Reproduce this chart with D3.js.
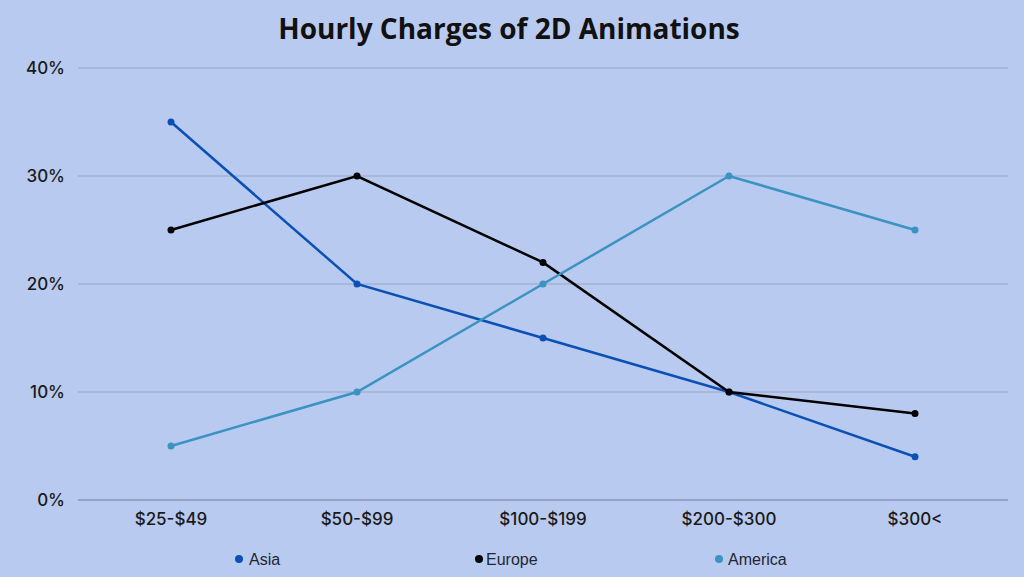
<!DOCTYPE html>
<html>
<head>
<meta charset="utf-8">
<script src="https://cdn.jsdelivr.net/npm/d3@7"></script>
<style>
  body { margin: 0; background: #b9caf0; }
  svg { display: block; }
</style>
</head>
<body>
<div id="chart"></div>
<script>
// Chart data
const categories = ["$25-$49", "$50-$99", "$100-$199", "$200-$300", "$300<"];
const seriesNames = ["Asia", "Europe", "America"];
const asia = [35, 20, 15, 10, 4];
const europe = [25, 30, 22, 10, 8];
const america = [5, 10, 20, 30, 25];
const yTicks = [0, 10, 20, 30, 40];

const width = 1024;
const height = 577;
const margin = {left: 78, right: 16, top: 68, bottom: 77};

const colors = {Asia: "#0b50b4", Europe: "#000000", America: "#3a93c0"};
const seriesData = [
  {name: "Asia", values: asia},
  {name: "Europe", values: europe},
  {name: "America", values: america}
];

const svg = d3.select("#chart")
  .append("svg")
  .attr("width", width)
  .attr("height", height);

svg.append("rect")
  .attr("width", width).attr("height", height)
  .attr("fill", "#b9caf0");

// Title
svg.append("text")
  .attr("x", 509).attr("y", 39)
  .attr("text-anchor", "middle")
  .attr("font-family", "'Open Sans', sans-serif")
  .attr("font-weight", "bold")
  .attr("font-size", "28px")
  .attr("fill", "#111")
  .text("Hourly Charges of 2D Animations");

// Scales
const xScale = d3.scaleBand()
  .domain(categories)
  .range([margin.left, width - margin.right]);

const yScale = d3.scaleLinear()
  .domain([0, 40])
  .range([height - margin.bottom, margin.top]);

// Gridlines
svg.append("g")
  .selectAll("line")
  .data(yTicks.filter(t => t > 0))
  .enter()
  .append("line")
    .attr("x1", margin.left)
    .attr("x2", width - margin.right)
    .attr("y1", d => yScale(d))
    .attr("y2", d => yScale(d))
    .attr("stroke", "#98a6c4")
    .attr("stroke-width", 1);

// Baseline
svg.append("line")
  .attr("x1", margin.left).attr("x2", width - margin.right)
  .attr("y1", yScale(0)).attr("y2", yScale(0))
  .attr("stroke", "#6f7c99")
  .attr("stroke-width", 1.2);

// Y axis labels
const yAxis = svg.append("g")
  .attr("transform", `translate(${margin.left - 13}, 0)`)
  .call(d3.axisLeft(yScale).tickValues(yTicks).tickSize(0).tickPadding(0)
          .tickFormat(d => d + "%"));
yAxis.select(".domain").remove();
yAxis.selectAll("text")
  .attr("font-family", "Inter, sans-serif")
  .attr("font-size", "17px")
  .attr("font-weight", 500)
  .attr("fill", "#1a1a1a");

// X axis labels
const xAxis = svg.append("g")
  .attr("transform", `translate(0, ${height - margin.bottom})`)
  .call(d3.axisBottom(xScale).tickSize(0).tickPadding(13));
xAxis.select(".domain").remove();
xAxis.selectAll("text")
  .attr("font-family", "Inter, sans-serif")
  .attr("font-size", "17px")
  .attr("font-weight", 500)
  .attr("fill", "#1a1a1a");

// Lines
const line = d3.line()
  .x((d, i) => xScale(categories[i]) + xScale.bandwidth() / 2)
  .y(d => yScale(d));

seriesData.forEach(s => {
  svg.append("path")
    .datum(s.values)
    .attr("fill", "none")
    .attr("stroke", colors[s.name])
    .attr("stroke-width", 2.5)
    .attr("d", line);

  svg.append("g")
    .selectAll("circle")
    .data(s.values)
    .enter()
    .append("circle")
      .attr("cx", (d, i) => xScale(categories[i]) + xScale.bandwidth() / 2)
      .attr("cy", d => yScale(d))
      .attr("r", 3.5)
      .attr("fill", colors[s.name]);
});

// Legend
const legendX = [239, 479, 719];
const legendGap = [10, 7, 9];
const legend = svg.append("g");
seriesNames.forEach((name, i) => {
  legend.append("circle")
    .attr("cx", legendX[i]).attr("cy", 559)
    .attr("r", 4)
    .attr("fill", colors[name]);
  legend.append("text")
    .attr("x", legendX[i] + legendGap[i]).attr("y", 565)
    .attr("font-family", "'Liberation Sans', sans-serif")
    .attr("font-size", "16px")
    .attr("fill", "#1f2633")
    .text(name);
});
</script>
</body>
</html>
